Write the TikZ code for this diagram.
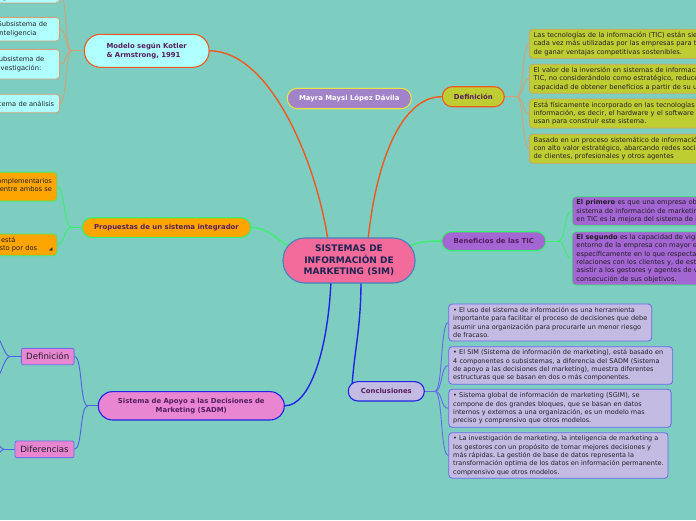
\documentclass[tikz,border=0pt]{standalone}
\usepackage{fontspec}
\setmainfont{DejaVu Sans}
\usetikzlibrary{calc}
\frenchspacing

\pgfdeclarelayer{paper}
\pgfdeclarelayer{links}
\pgfsetlayers{paper,links,main}

\definecolor{paper}{RGB}{125,205,192}
\definecolor{simfill}{RGB}{243,107,155}
\definecolor{simdraw}{RGB}{70,130,190}
\definecolor{simtext}{RGB}{28,36,82}
\definecolor{labeltext}{RGB}{85,30,95}
\definecolor{leaftext}{RGB}{35,30,40}
\definecolor{orangeline}{RGB}{238,90,30}
\definecolor{greenline}{RGB}{60,238,110}
\definecolor{blueline}{RGB}{35,35,230}
\definecolor{tanline}{RGB}{212,160,118}
\definecolor{cyanfill}{RGB}{175,255,255}
\definecolor{orangefill}{RGB}{255,165,0}
\definecolor{mayrafill}{RGB}{162,130,200}
\definecolor{mayradraw}{RGB}{232,228,70}
\definecolor{limefill}{RGB}{190,205,50}
\definecolor{limedraw}{RGB}{212,165,90}
\definecolor{violetfill}{RGB}{163,102,210}
\definecolor{lilacfill}{RGB}{195,187,226}
\definecolor{lilacdraw}{RGB}{105,105,235}
\definecolor{pinkfill}{RGB}{232,134,210}
\definecolor{pinkdraw}{RGB}{115,110,232}
\definecolor{subline}{RGB}{80,95,230}

\tikzset{
  topic/.style={draw, line width=1.1pt, inner sep=0pt, align=center,
    font=\fontsize{6.9}{8.6}\selectfont\bfseries, text=labeltext},
  leaf/.style={draw, line width=0.8pt, rounded corners=3.5pt, inner xsep=4.3pt,
    inner ysep=0pt, align=left, font=\fontsize{6.7}{8.3}\selectfont, text=leaftext},
  endleaf/.style={leaf, fill=lilacfill, draw=lilacdraw, inner xsep=4.5pt,
    font=\fontsize{6.5}{8.3}\selectfont, anchor=west},
  link/.style={line width=1.4pt},
  twig/.style={line width=0.9pt},
}

\begin{document}
\begin{tikzpicture}[x=1pt,y=-1pt]
  \useasboundingbox (0,0) rectangle (696,520);
  \begin{pgfonlayer}{paper}
    \fill[paper] (0,0) rectangle (696,520);
  \end{pgfonlayer}

  % nodo central
  \node[topic, fill=simfill, draw=simdraw, text=simtext, rounded corners=22pt,
        minimum width=132pt, minimum height=45pt,
        font=\fontsize{9}{11.5}\selectfont\bfseries]
    (sim) at (349,260.5) {SISTEMAS DE\\INFORMACIÓN DE\\MARKETING (SIM)};

  % ramas principales
  \node[topic, fill=cyanfill, draw=orangeline, rounded corners=16pt, align=left,
        minimum width=124.7pt, minimum height=33pt]
    (modelo) at (146.7,50.8) {Modelo según Kotler\\\& Armstrong, 1991};
  \node[topic, fill=orangefill, draw=greenline, rounded corners=9.5pt,
        minimum width=168.4pt, minimum height=19.6pt]
    (prop) at (166.5,227.5) {Propuestas de un sistema integrador};
  \node[topic, fill=mayrafill, draw=mayradraw, text=white, rounded corners=10pt,
        minimum width=124pt, minimum height=20.4pt]
    (mayra) at (349.3,98.5) {Mayra Maysi López Dávila};
  \node[topic, fill=limefill, draw=orangeline, rounded corners=10pt,
        minimum width=62pt, minimum height=20pt]
    (defi) at (473.3,96.7) {Definición};
  \node[topic, fill=violetfill, draw=greenline, rounded corners=9.5pt,
        minimum width=104.3pt, minimum height=19pt]
    (bene) at (493.8,241.2) {Beneficios de las TIC};
  \node[topic, fill=lilacfill, draw=blueline, rounded corners=9.5pt,
        minimum width=76pt, minimum height=19.3pt]
    (conc) at (386.3,391.3) {Conclusiones};
  \node[topic, fill=pinkfill, draw=blueline, rounded corners=14pt,
        minimum width=186pt, minimum height=28.3pt,
        font=\fontsize{6.9}{9}\selectfont\bfseries]
    (sadm) at (191.3,405.8) {Sistema de Apoyo a las Decisiones de\\Marketing (SADM)};

  % subtemas del SADM
  \node[topic, fill=pinkfill, draw=pinkdraw, line width=0.9pt, rounded corners=2pt,
        font=\fontsize{8.6}{10}\selectfont, text=leaftext,
        minimum width=52.7pt, minimum height=16.4pt]
    (sdef) at (47.7,356.5) {Definición};
  \node[topic, fill=pinkfill, draw=pinkdraw, line width=0.9pt, rounded corners=2pt,
        font=\fontsize{8.6}{10}\selectfont, text=leaftext,
        minimum width=59pt, minimum height=16.7pt]
    (sdif) at (44.5,449.3) {Diferencias};

  % hojas de Modelo
  \node[leaf, fill=cyanfill, draw=tanline, text width=59.4pt, inner ysep=2pt,
        anchor=south east] (k1) at (60,3.3)
    {Subsistema de\\registro interno {\fontsize{5}{5}\selectfont▪}};
  \node[leaf, fill=cyanfill, draw=tanline, text width=57.7pt, minimum height=23.7pt,
        anchor=east] (k2) at (60,29.2) {Subsistema de\\inteligencia};
  \node[leaf, fill=cyanfill, draw=tanline, text width=60.7pt, minimum height=29.7pt,
        anchor=east] (k3) at (60,64.2) {Subsistema de\\investigación:};
  \node[leaf, fill=cyanfill, draw=tanline, text width=66pt, minimum height=18.4pt,
        anchor=east] (k4) at (60,103.5) {Sistema de análisis};

  % hojas de Propuestas
  \node[leaf, fill=orangefill, draw=greenline, text width=59pt, minimum height=29pt,
        text depth=11pt, anchor=north east] (p1) at (57.3,171.7)
    {complementarios\\y entre ambos se};
  \node[leaf, fill=orangefill, draw=greenline, text width=80pt, minimum height=21.7pt,
        anchor=east] (p2) at (57.3,244.8)
    {sistema está\\compuesto por dos\hfill{\fontsize{4.5}{4.5}\selectfont◢}};

  % hojas de Definición
  \node[leaf, fill=limefill, draw=limedraw, text width=250pt, minimum height=29pt,
        anchor=west] (d1) at (529,43.8)
    {Las tecnologías de la información (TIC) están siendo\\cada vez más utilizadas por las empresas para tratar\\de ganar ventajas competitivas sostenibles.};
  \node[leaf, fill=limefill, draw=limedraw, text width=250pt, minimum height=29pt,
        anchor=west] (d2) at (529,78.8)
    {El valor de la inversión en sistemas de información\\TIC, no considerándolo como estratégico, reduce\\capacidad de obtener beneficios a partir de su uso};
  \node[leaf, fill=limefill, draw=limedraw, text width=250pt, minimum height=29pt,
        anchor=west] (d3) at (529,113.5)
    {Está físicamente incorporado en las tecnologías de\\información, es decir, el hardware y el software son\\usan para construir este sistema.};
  \node[leaf, fill=limefill, draw=limedraw, text width=250pt, minimum height=29pt,
        anchor=west] (d4) at (529,148.7)
    {Basado en un proceso sistemático de información\\con alto valor estratégico, abarcando redes sociales\\de clientes, profesionales y otros agentes};

  % hojas de Beneficios
  \node[leaf, fill=violetfill, draw=greenline, text width=200pt, minimum height=29pt,
        anchor=west] (b1) at (571.7,211.2)
    {\textbf{El primero} es que una empresa obtiene\\sistema de información de marketing\\en TIC es la mejora del sistema de información};
  \node[leaf, fill=violetfill, draw=greenline, text width=200pt, minimum height=53.3pt,
        anchor=west] (b2) at (571.7,258.4)
    {\textbf{El segundo} es la capacidad de vigilar\\entorno de la empresa con mayor eficiencia\\específicamente en lo que respecta a\\relaciones con los clientes y, de este\\asistir a los gestores y agentes de ventas\\consecución de sus objetivos.};

  % hojas de Conclusiones
  \node[endleaf, minimum height=37pt] (c1) at (448.3,322.5)
    {• El uso del sistema de información es una herramienta\\importante para facilitar el proceso de decisiones que debe\\asumir una organización para procurarle un menor riesgo\\de fracaso.};
  \node[endleaf, text width=215pt, minimum height=37.6pt] (c2) at (448.3,365.5)
    {• El SIM (Sistema de información de marketing), está basado en\\4 componentes o subsistemas, a diferencia del SADM (Sistema\\de apoyo a las decisiones del marketing), muestra diferentes\\estructuras que se basan en dos o más componentes.};
  \node[endleaf, text width=213.4pt, minimum height=38pt] (c3) at (448.3,408.3)
    {• Sistema global de información de marketing (SGIM), se\\compone de dos grandes bloques, que se basan en datos\\internos y externos a una organización, es un modelo mas\\preciso y comprensivo que otros modelos.};
  \node[endleaf, minimum height=45.6pt] (c4) at (448.3,455.5)
    {• La investigación de marketing, la inteligencia de marketing a\\los gestores con un propósito de tomar mejores decisiones y\\más rápidas. La gestión de base de datos representa la\\transformación optima de los datos en información permanente.\\comprensivo que otros modelos.};

  % uniones
  \coordinate (mj) at ($(modelo.west)+(-12,0)$);
  \coordinate (pj) at ($(prop.west)+(-10.6,0)$);
  \coordinate (dj) at ($(defi.east)+(12,0)$);
  \coordinate (bj) at ($(bene.east)+(11.7,0)$);
  \coordinate (cj) at ($(conc.east)+(10,0)$);
  \coordinate (sj) at ($(sadm.west)+(-10,0)$);
  \coordinate (fj) at ($(sdef.west)+(-11,0)$);
  \coordinate (gj) at ($(sdif.west)+(-10,0)$);
  \coordinate (f1) at (-6,334);
  \coordinate (f2) at (-6,381);
  \coordinate (g1) at (-9,436);
  \coordinate (g2) at (-9,462);

  \begin{pgfonlayer}{links}
    % ramas desde el centro
    \draw[link, orangeline] ($(sim)+(-21,-20)$) .. controls +(-12,-80) and +(60,0) .. (modelo.east);
    \draw[link, orangeline] ($(sim)+(19,-20)$) .. controls +(8,-80) and +(-40,0) .. (defi.west);
    \draw[link, greenline] ($(sim)+(60,-14)$) .. controls +(14,-6) and +(-12,0) .. (bene.west);
    \draw[link, greenline] ($(sim)+(-60,-14)$) .. controls +(-16,-10) and +(16,0) .. (prop.east);
    \draw[link, blueline] ($(sim)+(-18,20)$) .. controls +(-3,70) and +(25,0) .. (sadm.east);
    \draw[link, blueline] ($(sim)+(12,20)$) .. controls +(0,50) and +(2,-40) .. ($(conc.west)+(4,0)$);

    % sub-ramas
    \draw[twig, tanline] (modelo.west) -- (mj);
    \foreach \k in {k1,k2,k3,k4}
      \draw[twig, tanline] (mj) .. controls +(-7,0) and +(7,0) .. (\k.east);
    \draw[twig, greenline] (prop.west) -- (pj);
    \foreach \k in {p1,p2}
      \draw[twig, greenline] (pj) .. controls +(-7,0) and +(7,0) .. (\k.east);
    \draw[twig, tanline] (defi.east) -- (dj);
    \foreach \k in {d1,d2,d3,d4}
      \draw[twig, tanline] (dj) .. controls +(7,0) and +(-7,0) .. (\k.west);
    \draw[twig, greenline] (bene.east) -- (bj);
    \foreach \k in {b1,b2}
      \draw[twig, greenline] (bj) .. controls +(8,0) and +(-8,0) .. (\k.west);
    \draw[twig, lilacdraw] (conc.east) -- (cj);
    \foreach \k in {c1,c2,c3,c4}
      \draw[twig, lilacdraw] (cj) .. controls +(8,0) and +(-8,0) .. (\k.west);
    \draw[twig, subline] (sadm.west) -- (sj);
    \foreach \k in {sdef,sdif}
      \draw[twig, subline] (sj) .. controls +(-8,0) and +(8,0) .. (\k.east);
    \draw[twig, subline] (sdef.west) -- (fj);
    \foreach \k in {f1,f2}
      \draw[twig, subline] (fj) .. controls +(-6,0) and +(6,0) .. (\k);
    \draw[twig, subline] (sdif.west) -- (gj);
    \foreach \k in {g1,g2}
      \draw[twig, subline] (gj) .. controls +(-6,0) and +(6,0) .. (\k);
  \end{pgfonlayer}
\end{tikzpicture}
\end{document}
